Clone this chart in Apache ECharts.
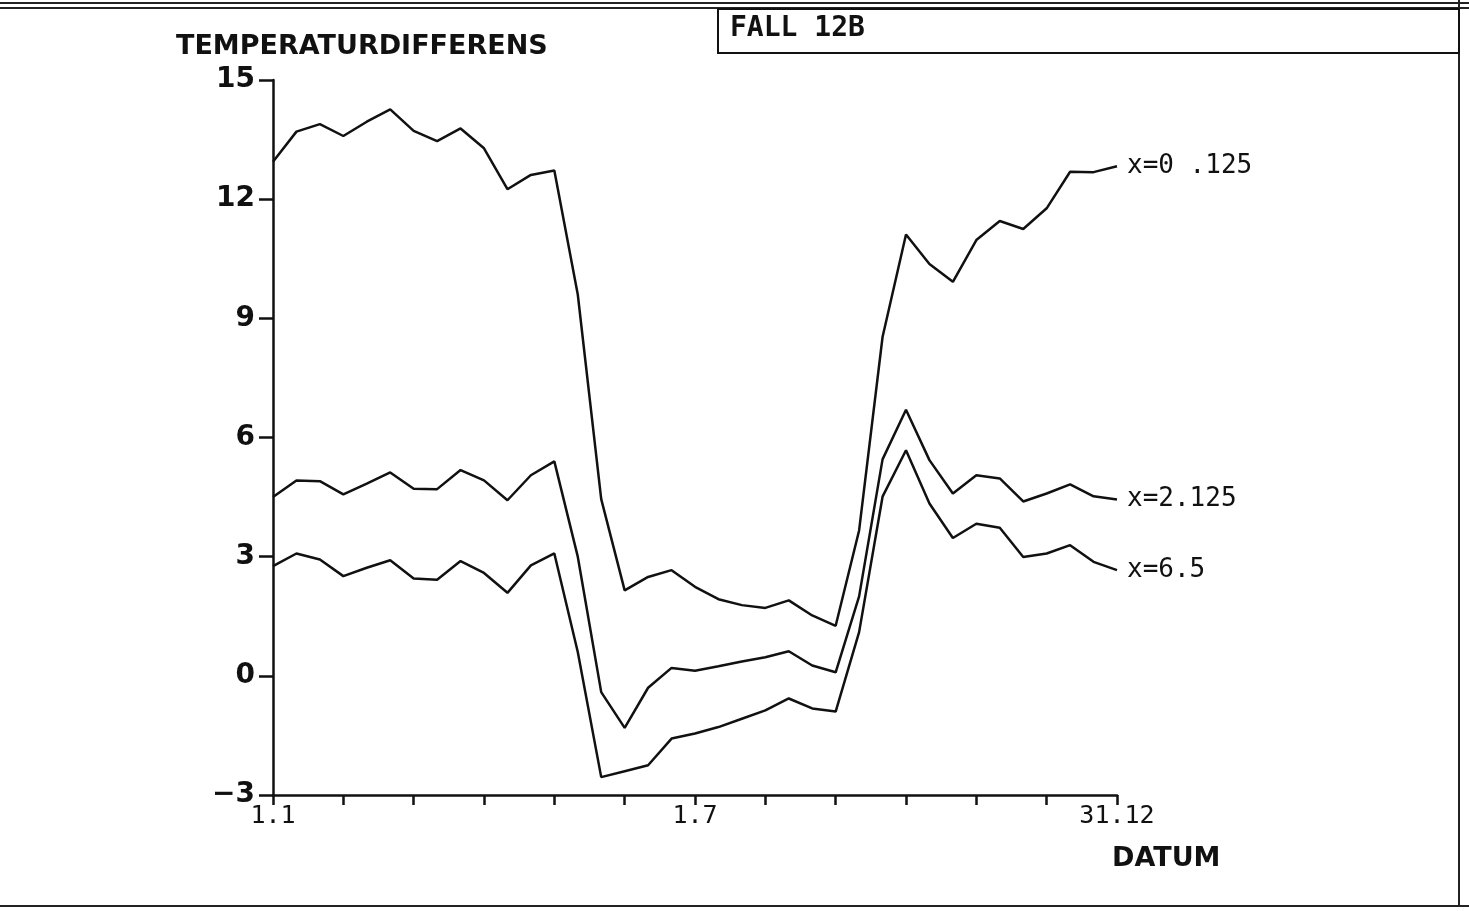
<!DOCTYPE html>
<html lang="sv">
<head>
<meta charset="UTF-8">
<script src="https://cdn.jsdelivr.net/npm/echarts/dist/echarts.min.js"></script>
<title>Fall 12B</title>
<style>
    html, body { margin: 0; padding: 0; background: #fff; }
    #chart { width: 1469px; height: 911px; }
</style>
</head>
<body>
<div id="chart"></div>
<script>
// datum: var tionde dag, 1.1 till 31.12
const dates = ['1.1', '', '', '', '', '', '', '', '', '', '', '', '', '', '', '', '', '',
    '1.7', '', '', '', '', '', '', '', '', '', '', '', '', '', '', '', '', '', '31.12'];

const x0125 = [12.94, 13.70, 13.89, 13.59, 13.95, 14.26, 13.72, 13.46, 13.78, 13.28, 12.25, 12.61, 12.72,
    9.60, 4.45, 2.15, 2.49, 2.66, 2.24, 1.93, 1.78, 1.71, 1.90, 1.52, 1.26, 3.66, 8.53,
    11.11, 10.37, 9.92, 10.97, 11.45, 11.25, 11.77, 12.69, 12.68, 12.83];

const x2125 = [4.50, 4.92, 4.90, 4.57, 4.84, 5.12, 4.71, 4.70, 5.18, 4.92, 4.42, 5.05, 5.40,
    3.00, -0.41, -1.31, -0.30, 0.20, 0.13, 0.24, 0.36, 0.47, 0.62, 0.26, 0.09, 2.00, 5.45,
    6.70, 5.43, 4.59, 5.05, 4.97, 4.39, 4.59, 4.82, 4.52, 4.44];

const x65 = [2.76, 3.08, 2.93, 2.51, 2.72, 2.91, 2.45, 2.42, 2.89, 2.59, 2.09, 2.78, 3.08,
    0.60, -2.55, -2.40, -2.25, -1.58, -1.45, -1.29, -1.08, -0.87, -0.57, -0.82, -0.90, 1.10, 4.51,
    5.68, 4.34, 3.47, 3.83, 3.73, 2.99, 3.08, 3.29, 2.87, 2.66];

const seriesNames = ['x=0 .125', 'x=2.125', 'x=6.5'];

const chart = echarts.init(document.getElementById('chart'));

function lineSeries(name, data) {
    return {
        name: name,
        type: 'line',
        data: data,
        symbol: 'none',
        lineStyle: { color: '#111', width: 2.5 },
        endLabel: {
            show: true,
            formatter: name,
            color: '#111',
            fontFamily: 'DejaVu Sans Mono',
            fontSize: 26,
            distance: 10
        },
        animation: false
    };
}

const plotFont = 'DejaVu Sans';

const options = {
    backgroundColor: '#fff',
    grid: { left: 273, right: 352, top: 80, bottom: 116 },
    xAxis: {
        type: 'category',
        data: dates,
        boundaryGap: false,
        axisLine: { onZero: false, lineStyle: { color: '#111', width: 2.5 } },
        axisTick: { show: true, interval: 2, length: 10, lineStyle: { color: '#111', width: 2.5 } },
        axisLabel: {
            interval: 0,
            margin: 9,
            color: '#111',
            fontFamily: 'DejaVu Sans Mono',
            fontSize: 25
        },
        splitLine: { show: false }
    },
    yAxis: {
        type: 'value',
        min: -3,
        max: 15,
        interval: 3,
        axisLine: { show: true, lineStyle: { color: '#111', width: 2.5 } },
        axisTick: { show: true, length: 14, lineStyle: { color: '#111', width: 2.5 } },
        axisLabel: {
            margin: 18,
            color: '#111',
            fontFamily: plotFont,
            fontWeight: 'bold',
            fontSize: 28,
            formatter: function (v) { return v < 0 ? '\u2212' + (-v) : String(v); }
        },
        splitLine: { show: false }
    },
    graphic: [
        // ram runt bladet
        { type: 'line', shape: { x1: 0, y1: 3, x2: 1469, y2: 3 }, style: { stroke: '#222', lineWidth: 2 } },
        { type: 'line', shape: { x1: 0, y1: 8, x2: 1469, y2: 8 }, style: { stroke: '#222', lineWidth: 2 } },
        { type: 'line', shape: { x1: 1459, y1: 0, x2: 1459, y2: 906 }, style: { stroke: '#222', lineWidth: 2 } },
        { type: 'line', shape: { x1: 0, y1: 906, x2: 1469, y2: 906 }, style: { stroke: '#222', lineWidth: 2 } },
        // rubrikruta
        { type: 'rect', shape: { x: 718, y: 9, width: 741, height: 44 }, style: { fill: 'none', stroke: '#111', lineWidth: 2 } },
        {
            type: 'text', left: 730, top: 15,
            style: { text: 'FALL 12B', fill: '#111', font: 'bold 28px "DejaVu Sans Mono"' }
        },
        {
            type: 'text', left: 176, top: 33,
            style: { text: 'TEMPERATURDIFFERENS', fill: '#111', font: 'bold 27px "DejaVu Sans"' }
        },
        {
            type: 'text', left: 1112, top: 845,
            style: { text: 'DATUM', fill: '#111', font: 'bold 27px "DejaVu Sans"' }
        }
    ],
    series: [
        lineSeries(seriesNames[0], x0125),
        lineSeries(seriesNames[1], x2125),
        lineSeries(seriesNames[2], x65)
    ]
};

chart.setOption(options);
</script>
</body>
</html>
